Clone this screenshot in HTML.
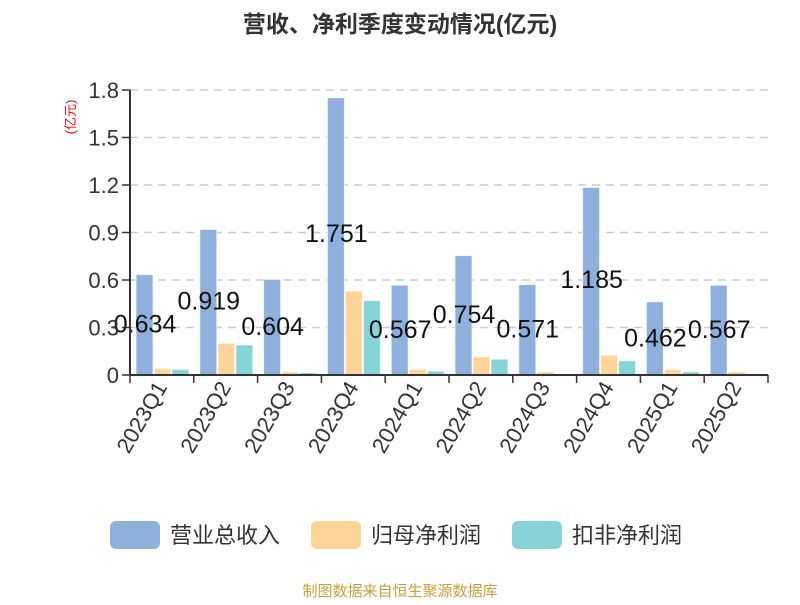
<!DOCTYPE html>
<html><head><meta charset="utf-8"><style>
body{margin:0;background:#fff}
svg text{font-family:"Liberation Sans","Noto Sans CJK SC",sans-serif}
</style></head><body>
<svg id="c" width="800" height="600">
<text x="400" y="32" text-anchor="middle" font-size="23" font-weight="bold" fill="#333">营收、净利季度变动情况(亿元)</text>
<text transform="translate(75,117) rotate(-90)" text-anchor="middle" font-size="13" fill="red">(亿元)</text>
<g id="grid"></g><g id="bars"></g><g id="axes"></g>
<g>
<g><rect x="110" y="521" width="50" height="28" rx="6" fill="#8eb0dc"/><text x="170" y="543" font-size="22" fill="#333">营业总收入</text></g>
<g><rect x="311" y="521" width="50" height="28" rx="6" fill="#fdd598"/><text x="371" y="543" font-size="22" fill="#333">归母净利润</text></g>
<g><rect x="512" y="521" width="50" height="28" rx="6" fill="#86d4d8"/><text x="572" y="543" font-size="22" fill="#333">扣非净利润</text></g>
</g>
<text x="400" y="596" text-anchor="middle" font-size="15" fill="#c9a13c">制图数据来自恒生聚源数据库</text>
</svg>
<script>
const categories=["2023Q1","2023Q2","2023Q3","2023Q4","2024Q1","2024Q2","2024Q3","2024Q4","2025Q1","2025Q2"];
const revenue=[0.634,0.919,0.604,1.751,0.567,0.754,0.571,1.185,0.462,0.567];
const netProfit=[0.04,0.20,0.02,0.53,0.035,0.115,0.02,0.125,0.035,0.02];
const deducted=[0.035,0.19,0.015,0.47,0.025,0.10,0.005,0.09,0.02,0.005];
const yTicks=[0,0.3,0.6,0.9,1.2,1.5,1.8];
const tickLabels=["0","0.3","0.6","0.9","1.2","1.5","1.8"];
const NS="http://www.w3.org/2000/svg";
const X0=130,X1=768,Y0=375,Y1=90,YMAX=1.8;
const bw=(X1-X0)/categories.length;
const y=v=>Y0-v/YMAX*(Y0-Y1);
const xc=i=>X0+bw*i;
function mk(t,a,p){const e=document.createElementNS(NS,t);for(const k in a)e.setAttribute(k,a[k]);p.appendChild(e);return e;}
const grid=document.getElementById('grid'),bars=document.getElementById('bars'),axes=document.getElementById('axes');
yTicks.forEach((v,i)=>{
 if(v>0){const g=mk('line',{x1:X0,x2:X1,y1:y(v),y2:y(v),stroke:'#ccc','stroke-dasharray':'8,6','stroke-width':1.5},grid);
 
 }
 const t=mk('line',{x1:X0-8,x2:X0,y1:y(v),y2:y(v),stroke:'#333','stroke-width':1.5},axes);
 
 
 const l=mk('text',{x:X0-11,y:y(v)+8,'text-anchor':'end','font-size':22,fill:'#333'},axes);
 l.textContent=tickLabels[i];
 
 
});
const series=[[revenue,'#8eb0dc','bar-revenue'],[netProfit,'#fdd598','bar-net-profit'],[deducted,'#86d4d8','bar-deducted-profit']];
categories.forEach((c,i)=>{
 series.forEach((s,j)=>{
  const v=s[0][i];const bx=xc(i)+6+j*18;
  const r=mk('rect',{x:bx,y:y(v),width:17,height:Y0-y(v),fill:s[1],stroke:'rgba(255,255,255,0.7)','stroke-width':1},bars);
  
  
 });
 const lb=mk('text',{x:xc(i)+15,y:Y0-revenue[i]*81+9,'text-anchor':'middle','font-size':25,fill:'#111'},bars);
 lb.textContent=revenue[i].toFixed(3);
 
 
 const tk=mk('line',{x1:xc(i),x2:xc(i),y1:Y0,y2:Y0+8,stroke:'#333','stroke-width':1.5},axes);
 
 
 const xl=mk('text',{transform:`translate(${xc(i)+bw/2+6},${Y0+12}) rotate(-60)`,'text-anchor':'end','font-size':22,fill:'#333'},axes);
 xl.textContent=c;
 
 
});
const lt=mk('line',{x1:X1,x2:X1,y1:Y0,y2:Y0+8,stroke:'#333','stroke-width':1.5},axes);


const ya=mk('line',{x1:X0,x2:X0,y1:Y1,y2:Y0,stroke:'#333','stroke-width':2},axes);


const xa=mk('line',{x1:X0,x2:X1,y1:Y0,y2:Y0,stroke:'#333','stroke-width':2},axes);


</script>
</body></html>
